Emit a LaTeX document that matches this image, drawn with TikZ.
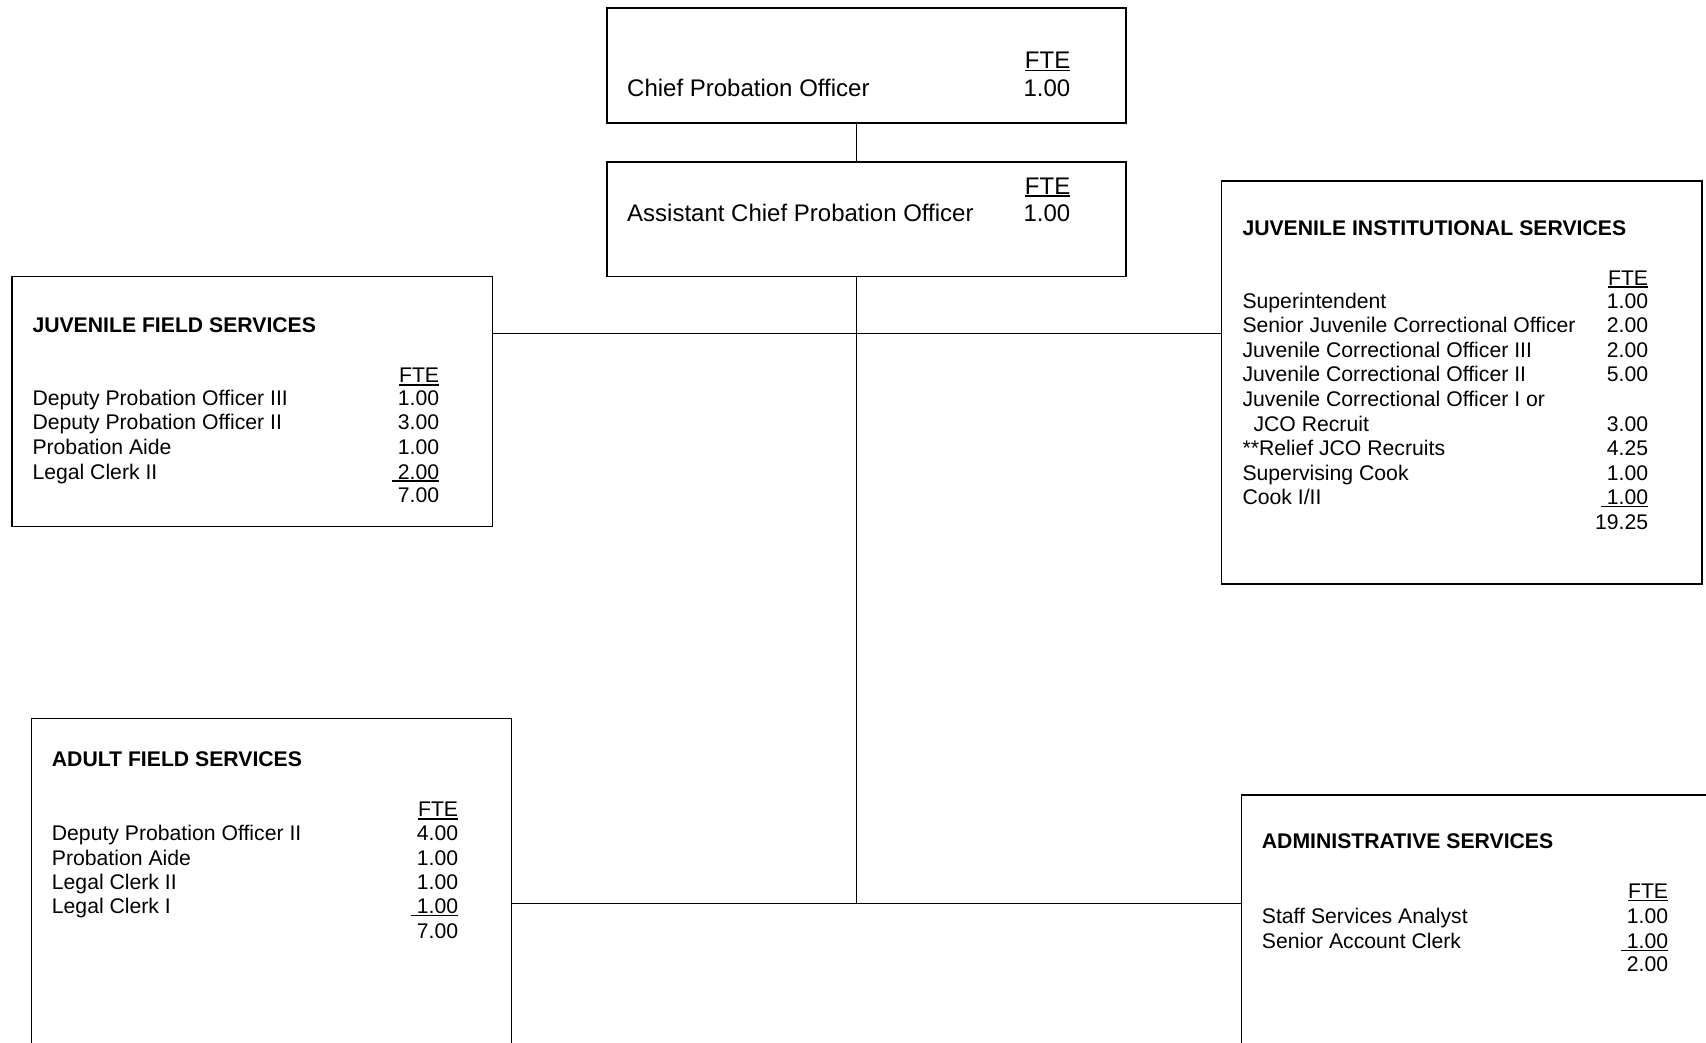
\documentclass[tikz,border=0pt]{standalone}
\usepackage{fontspec}
\setmainfont{Liberation Sans}
\newcommand\ulbox[1]{\setbox0\hbox{#1}\rlap{\copy0}\rule[-2.8pt]{\wd0}{1.6pt}}
\begin{document}
\begin{tikzpicture}[x=1pt,y=-1pt,
  box/.style={draw, line width=1.5pt, rectangle, inner sep=0pt, anchor=north west},
  big/.style={font=\fontsize{24}{29}\selectfont, inner sep=0pt},
  sm/.style={font=\fontsize{21.2}{24.5}\selectfont, inner sep=0pt},
  ttl/.style={font=\fontsize{21.2}{24.5}\selectfont\bfseries, inner sep=0pt, anchor=base west},
  blab/.style={big, anchor=base west},
  bnum/.style={big, anchor=base east},
  lab/.style={sm, anchor=base west},
  num/.style={sm, anchor=base east},
  conn/.style={line width=1.5pt}]
\useasboundingbox (0,0) rectangle (1706,1042);
\clip (0,0) rectangle (1706,1042);
\fill[white] (0,0) rectangle (1706,1042);

% boxes
\node[box, minimum width=519pt, minimum height=114.7pt] (chief) at (606,7.3) {};
\node[box, minimum width=519pt, minimum height=114.5pt] (asst) at (606,161) {};
\node[box, minimum width=480.5pt, minimum height=250pt] (jfs) at (11.2,275.5) {};
\node[box, minimum width=480.5pt, minimum height=403pt] (jis) at (1220.5,180) {};
\node[box, minimum width=480pt, minimum height=400pt] (afs) at (30.7,717.5) {};
\node[box, minimum width=500pt, minimum height=300pt] (adm) at (1240.5,794) {};

% connectors
\coordinate (tk) at (856.3,0);
\coordinate (j1) at (856.3,333.5);
\coordinate (j2) at (856.3,903.3);
\draw[conn] (chief.south -| tk) -- (asst.north -| tk);
\draw[conn] (asst.south -| tk) -- (j2);
\draw[conn] (jfs.east |- j1) -- (jis.west |- j1);
\draw[conn] (afs.east |- j2) -- (adm.west |- j2);

% chief
\node[bnum] (chiefF) at (1070.5,68.5) {\ulbox{FTE}};
\node[blab] (chiefL) at (627,96) {Chief Probation Officer};
\node[bnum] (chiefN) at (1070.5,96) {1.00};

% assistant
\node[bnum] (asstF) at (1070.5,194) {\ulbox{FTE}};
\node[blab] (asstL) at (627,221.5) {Assistant Chief Probation Officer};
\node[bnum] (asstN) at (1070.5,221.5) {1.00};

% juvenile field services
\node[ttl] (jfsT) at (32.3,332.3) {JUVENILE FIELD SERVICES};
\node[num] (jfsF) at (439.3,382.7) {\ulbox{FTE}};
\node[lab] (jfsL1) at (32.3,405) {Deputy Probation Officer III};
\node[num] (jfsN1) at (439.3,405) {1.00};
\node[lab] (jfsL2) at (32.3,429.3) {Deputy Probation Officer II};
\node[num] (jfsN2) at (439.3,429.3) {3.00};
\node[lab] (jfsL3) at (32.3,454.3) {Probation Aide};
\node[num] (jfsN3) at (439.3,454.3) {1.00};
\node[lab] (jfsL4) at (32.3,479) {Legal Clerk II};
\node[num] (jfsN4) at (439.3,479) {\ulbox{\ 2.00}};
\node[num] (jfsTot) at (439.3,502.3) {7.00};

% juvenile institutional services
\node[ttl] (jisT) at (1242.3,235) {JUVENILE INSTITUTIONAL SERVICES};
\node[num] (jisF) at (1648.3,285) {\ulbox{FTE}};
\node[lab] (jisL1) at (1242.3,308.3) {Superintendent};
\node[num] (jisN1) at (1648.3,308.3) {1.00};
\node[lab] (jisL2) at (1242.3,332.7) {Senior Juvenile Correctional Officer};
\node[num] (jisN2) at (1648.3,332.7) {2.00};
\node[lab] (jisL3) at (1242.3,357.7) {Juvenile Correctional Officer III};
\node[num] (jisN3) at (1648.3,357.7) {2.00};
\node[lab] (jisL4) at (1242.3,381.7) {Juvenile Correctional Officer II};
\node[num] (jisN4) at (1648.3,381.7) {5.00};
\node[lab] (jisL5) at (1242.3,406.7) {Juvenile Correctional Officer I or};
\node[lab] (jisL6) at (1253.3,431) {JCO Recruit};
\node[num] (jisN6) at (1648.3,431) {3.00};
\node[lab] (jisL7) at (1242.3,455.7) {**Relief JCO Recruits};
\node[num] (jisN7) at (1648.3,455.7) {4.25};
\node[lab] (jisL8) at (1242.3,480) {Supervising Cook};
\node[num] (jisN8) at (1648.3,480) {1.00};
\node[lab] (jisL9) at (1242.3,504.3) {Cook I/II};
\node[num] (jisN9) at (1648.3,504.3) {\ulbox{\ 1.00}};
\node[num] (jisTot) at (1648.3,529) {19.25};

% adult field services
\node[ttl] (afsT) at (51.7,766.7) {ADULT FIELD SERVICES};
\node[num] (afsF) at (458.3,816.7) {\ulbox{FTE}};
\node[lab] (afsL1) at (51.7,840) {Deputy Probation Officer II};
\node[num] (afsN1) at (458.3,840) {4.00};
\node[lab] (afsL2) at (51.7,865) {Probation Aide};
\node[num] (afsN2) at (458.3,865) {1.00};
\node[lab] (afsL3) at (51.7,889) {Legal Clerk II};
\node[num] (afsN3) at (458.3,889) {1.00};
\node[lab] (afsL4) at (51.7,913.3) {Legal Clerk I};
\node[num] (afsN4) at (458.3,913.3) {\ulbox{\ 1.00}};
\node[num] (afsTot) at (458.3,938.3) {7.00};

% administrative services
\node[ttl] (admT) at (1261.7,848.3) {ADMINISTRATIVE SERVICES};
\node[num] (admF) at (1668.3,898.3) {\ulbox{FTE}};
\node[lab] (admL1) at (1261.7,923.3) {Staff Services Analyst};
\node[num] (admN1) at (1668.3,923.3) {1.00};
\node[lab] (admL2) at (1261.7,948.3) {Senior Account Clerk};
\node[num] (admN2) at (1668.3,948.3) {\ulbox{\ 1.00}};
\node[num] (admTot) at (1668.3,971.7) {2.00};
\end{tikzpicture}
\end{document}
